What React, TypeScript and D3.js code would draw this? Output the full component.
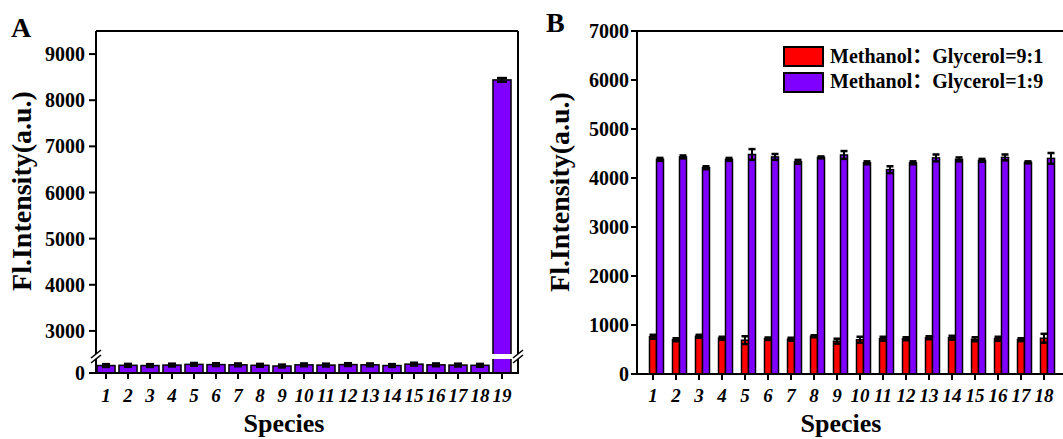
import React from "react";
import * as d3 from "d3";

const speciesA = ["1","2","3","4","5","6","7","8","9","10","11","12","13","14","15","16","17","18","19"];
const valuesA = [160,165,160,170,185,180,175,165,150,175,170,180,175,160,190,175,170,165,8440];
const errorsA = [30,30,30,30,30,30,30,30,30,30,30,30,30,30,30,30,30,30,40];
const ticksA = [0,3000,4000,5000,6000,7000,8000,9000];

const speciesB = ["1","2","3","4","5","6","7","8","9","10","11","12","13","14","15","16","17","18"];
const redB = [760,700,770,730,690,720,710,770,670,700,720,720,740,740,710,720,700,730];
const redErrB = [40,30,30,30,80,25,30,20,50,60,40,30,30,40,40,40,30,90];
const purpleB = [4380,4430,4210,4380,4480,4430,4330,4420,4470,4310,4170,4310,4410,4380,4360,4420,4320,4400];
const purpleErrB = [30,30,30,30,110,60,40,20,80,30,70,30,70,40,30,60,20,110];
const ticksB = [0,1000,2000,3000,4000,5000,6000,7000];
const legendB = ["Methanol：Glycerol=9:1", "Methanol：Glycerol=1:9"];

const RED = "#ff0000";
const PURPLE = "#8000ff";
const FONT = "'Liberation Serif', 'Times New Roman', serif";

function ErrBar({ x, y1, y2, w }: { x: number; y1: number; y2: number; w: number }) {
  return (
    <g stroke="#000" strokeWidth={2}>
      <line x1={x} x2={x} y1={y1} y2={y2} />
      <line x1={x - w / 2} x2={x + w / 2} y1={y1} y2={y1} strokeWidth={2.5} />
      <line x1={x - w / 2} x2={x + w / 2} y1={y2} y2={y2} strokeWidth={2.5} />
    </g>
  );
}

function Slash({ x, y }: { x: number; y: number }) {
  return <line x1={x - 5} y1={y + 4} x2={x + 5} y2={y - 4} stroke="#000" strokeWidth={1.6} />;
}

export default function App() {
  // Panel A scales
  const xA = d3.scaleBand<string>().domain(speciesA).range([95, 513]).paddingInner(0.18).paddingOuter(0.09);
  const yA = d3.scaleLinear().domain([0, 300, 2500, 9500]).range([373, 359, 354, 31]);
  const aL = 96, aR = 518, aT = 31, aB = 373;
  const brLo = yA(300), brHi = yA(2500);

  // Panel B scales
  const xB = d3.scalePoint<string>().domain(speciesB).range([653, 1044]);
  const yB = d3.scaleLinear().domain([0, 7000]).range([374, 31]);
  const bL = 637, bT = 31, bB = 374, bR = 1066;
  const bw = 7;

  return (
    <svg width={1063} height={439} style={{ position: "absolute", left: 0, top: 0, background: "#fff" }} fontFamily={FONT}>
      <rect x={0} y={0} width={1063} height={439} fill="#fff" />
      {/* ===== Panel A ===== */}
      <text x={11} y={37} fontSize={28} fontWeight="bold">A</text>
      {speciesA.map((s, i) => {
        const x0 = xA(s)!;
        const w = xA.bandwidth();
        const v = valuesA[i];
        const cx = x0 + w / 2;
        const e = errorsA[i];
        return (
          <g key={s}>
            <rect x={x0} y={yA(v)} width={w} height={aB - yA(v)} fill={PURPLE} stroke="#000" strokeWidth={1.5} />
            {v > 2500 && <rect x={x0 - 1} y={brHi} width={w + 2} height={brLo - brHi} fill="#fff" />}
            <ErrBar x={cx} y1={yA(v + e)} y2={yA(v - e)} w={v > 2500 ? 10 : 8} />
          </g>
        );
      })}
      {/* frame A */}
      <g stroke="#000" strokeWidth={2} fill="none">
        <line x1={aL} x2={aR} y1={aT} y2={aT} />
        <line x1={aL} x2={aR + 1} y1={aB} y2={aB} />
        <line x1={aL} x2={aL} y1={aT} y2={brHi} />
        <line x1={aL} x2={aL} y1={brLo} y2={aB} />
        <line x1={aR} x2={aR} y1={aT} y2={brHi} />
        <line x1={aR} x2={aR} y1={brLo} y2={aB} />
      </g>
      <Slash x={aL} y={brHi} />
      <Slash x={aL} y={brLo} />
      <Slash x={aR} y={brHi} />
      <Slash x={aR} y={brLo} />
      {ticksA.map((t) => (
        <g key={t}>
          <line x1={aL - 7} x2={aL} y1={yA(t)} y2={yA(t)} stroke="#000" strokeWidth={2} />
          <text x={aL - 11} y={yA(t)} dy="0.35em" textAnchor="end" fontSize={20} fontWeight="bold">{t}</text>
        </g>
      ))}
      {speciesA.map((s) => {
        const cx = xA(s)! + xA.bandwidth() / 2;
        return (
          <g key={s}>
            <line x1={cx} x2={cx} y1={aB} y2={aB + 6} stroke="#000" strokeWidth={2} />
            <text x={cx} y={402} textAnchor="middle" fontSize={19} fontWeight="bold" fontStyle="italic">{s}</text>
          </g>
        );
      })}
      <text x={284} y={432} textAnchor="middle" fontSize={26} fontWeight="bold">Species</text>
      <text transform="translate(31,191) rotate(-90)" textAnchor="middle" fontSize={28} fontWeight="bold">Fl.Intensity(a.u.)</text>

      {/* ===== Panel B ===== */}
      <text x={546} y={32} fontSize={28} fontWeight="bold">B</text>
      {speciesB.map((s, i) => {
        const c = xB(s)!;
        const r = redB[i], re = redErrB[i];
        const p = purpleB[i], pe = purpleErrB[i];
        return (
          <g key={s}>
            <rect x={c - bw / 2} y={yB(r)} width={bw} height={bB - yB(r)} fill={RED} stroke="#000" strokeWidth={1.5} />
            <ErrBar x={c} y1={yB(r + re)} y2={yB(r - re)} w={bw} />
            <rect x={c + bw / 2} y={yB(p)} width={bw} height={bB - yB(p)} fill={PURPLE} stroke="#000" strokeWidth={1.5} />
            <ErrBar x={c + bw} y1={yB(p + pe)} y2={yB(p - pe)} w={bw} />
          </g>
        );
      })}
      <g stroke="#000" strokeWidth={2} fill="none">
        <line x1={bL} x2={bR} y1={bT} y2={bT} />
        <line x1={bL} x2={bR} y1={bB} y2={bB} />
        <line x1={bL} x2={bL} y1={bT} y2={bB} />
      </g>
      {ticksB.map((t) => (
        <g key={t}>
          <line x1={bL - 6} x2={bL} y1={yB(t)} y2={yB(t)} stroke="#000" strokeWidth={2} />
          <text x={bL - 8} y={yB(t)} dy="0.35em" textAnchor="end" fontSize={20} fontWeight="bold">{t}</text>
        </g>
      ))}
      {speciesB.map((s) => {
        const cx = xB(s)!;
        return (
          <g key={s}>
            <line x1={cx} x2={cx} y1={bB} y2={bB + 6} stroke="#000" strokeWidth={2} />
            <text x={cx} y={402} textAnchor="middle" fontSize={19} fontWeight="bold" fontStyle="italic">{s}</text>
          </g>
        );
      })}
      <text x={841} y={432} textAnchor="middle" fontSize={26} fontWeight="bold">Species</text>
      <text transform="translate(569,192) rotate(-90)" textAnchor="middle" fontSize={28} fontWeight="bold">Fl.Intensity(a.u.)</text>
      {/* legend */}
      {legendB.map((label, i) => (
        <g key={label}>
          <rect x={784} y={47 + i * 26} width={39} height={19} fill={i === 0 ? RED : PURPLE} stroke="#000" strokeWidth={2} />
          <text x={830} y={63 + i * 25} fontSize={20} fontWeight="bold" fontFamily={`'Liberation Serif', 'Noto Sans CJK SC', serif`}>{label}</text>
        </g>
      ))}
    </svg>
  );
}
